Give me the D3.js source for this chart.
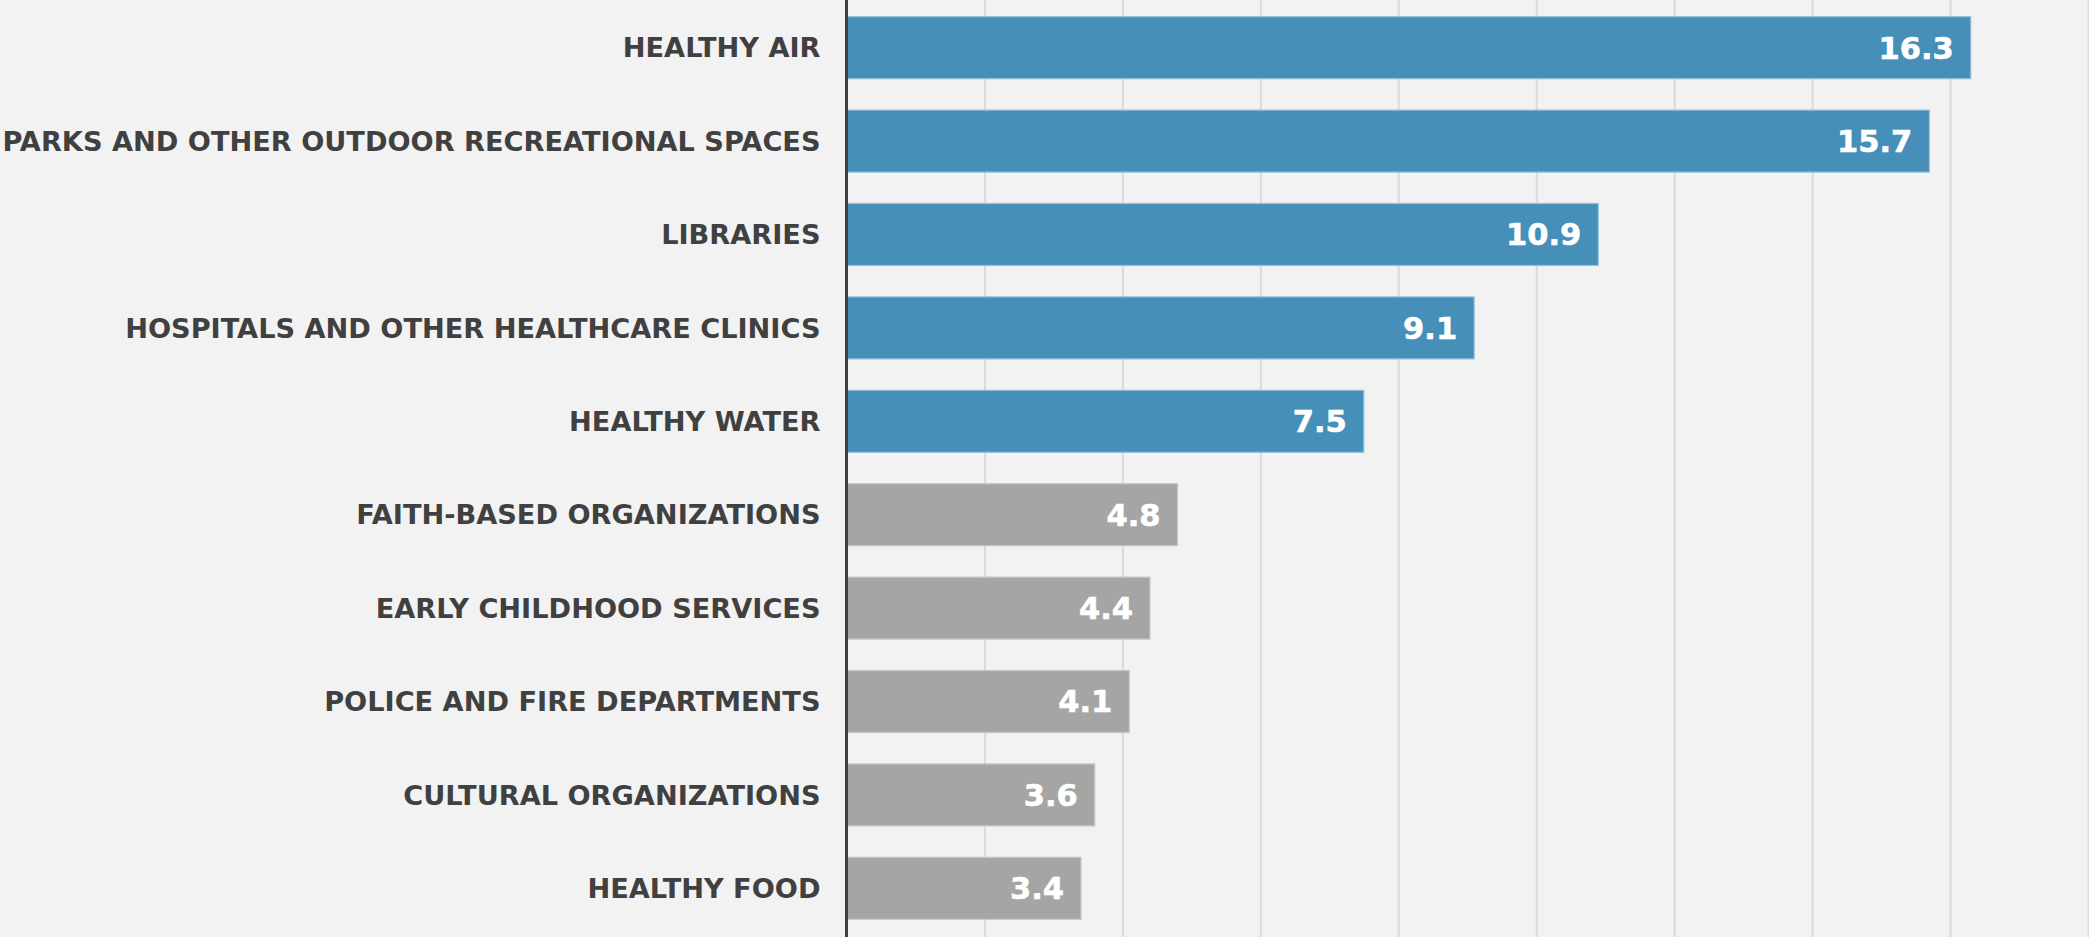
<!DOCTYPE html>
<html>
<head>
<meta charset="utf-8">
<script src="https://cdn.jsdelivr.net/npm/d3@7"></script>
<style>
    html, body { margin: 0; padding: 0; background: #f2f2f2; }
    svg { display: block; }
    .label { font-family: "DejaVu Sans", Verdana, sans-serif; font-weight: bold; font-size: 27.2px; fill: #404040; }
    .value { font-family: "DejaVu Sans", Verdana, sans-serif; font-weight: bold; font-size: 30.5px; fill: #ffffff; }
</style>
</head>
<body>
<svg id="chart"></svg>
<script>
const categories = [
    "HEALTHY AIR",
    "PARKS AND OTHER OUTDOOR RECREATIONAL SPACES",
    "LIBRARIES",
    "HOSPITALS AND OTHER HEALTHCARE CLINICS",
    "HEALTHY WATER",
    "FAITH-BASED ORGANIZATIONS",
    "EARLY CHILDHOOD SERVICES",
    "POLICE AND FIRE DEPARTMENTS",
    "CULTURAL ORGANIZATIONS",
    "HEALTHY FOOD"
];
const values = [16.3, 15.7, 10.9, 9.1, 7.5, 4.8, 4.4, 4.1, 3.6, 3.4];
// top five are highlighted in blue
const highlighted = [true, true, true, true, true, false, false, false, false, false];
const gridTicks = [2, 4, 6, 8, 10, 12, 14, 16, 18];

const W = 2089, H = 937;
const left = 846.5;

const svg = d3.select("#chart").attr("width", W).attr("height", H);

svg.append("rect").attr("width", W).attr("height", H).attr("fill", "#f2f2f2");

const defs = svg.append("defs");
const grad = defs.append("linearGradient")
    .attr("id", "gridGrad")
    .attr("gradientUnits", "userSpaceOnUse")
    .attr("x1", 0).attr("y1", 0).attr("x2", 0).attr("y2", H);
grad.append("stop").attr("offset", "0%").attr("stop-color", "#dadada");
grad.append("stop").attr("offset", "100%").attr("stop-color", "#8e8e8e");

const x = d3.scaleLinear().domain([0, 18]).range([left, 2088]);
const y = d3.scaleBand().domain(categories).range([1, 935])
    .paddingInner(0.336).paddingOuter(0.168);

// gridlines
svg.append("g")
    .attr("transform", `translate(0,${H})`)
    .call(d3.axisBottom(x).tickValues(gridTicks).tickSize(-H).tickFormat(""))
    .call(g => g.select(".domain").remove())
    .call(g => g.selectAll("line")
        .attr("stroke", "url(#gridGrad)")
        .attr("stroke-width", 2));

const data = categories.map((c, i) => ({ c, v: values[i], hi: highlighted[i] }));

svg.append("g").selectAll("rect")
    .data(data)
    .join("rect")
    .attr("x", x(0))
    .attr("y", d => y(d.c))
    .attr("width", d => x(d.v) - x(0))
    .attr("height", y.bandwidth())
    .attr("fill", d => d.hi ? "#458fb8" : "#a5a5a5")
    .attr("stroke", d => d.hi ? "#93c0da" : "#c8c8c8")
    .attr("stroke-width", 1.2);

// value labels inside bar ends
svg.append("g").selectAll("text")
    .data(data)
    .join("text")
    .attr("class", "value")
    .attr("x", d => x(d.v) - 17)
    .attr("y", d => y(d.c) + y.bandwidth() / 2)
    .attr("dy", "0.36em")
    .attr("text-anchor", "end")
    .attr("stroke", "#ffffff")
    .attr("stroke-width", 0.6)
    .text(d => d.v.toFixed(1));

// category labels
svg.append("g")
    .attr("transform", `translate(${left},0)`)
    .call(d3.axisLeft(y).tickSize(0).tickPadding(26))
    .call(g => g.select(".domain").remove())
    .call(g => g.selectAll("text")
        .attr("class", "label")
        .attr("dy", "0.36em")
        .attr("font-size", null)
        .attr("font-family", null)
        .attr("fill", null));

// vertical axis line
svg.append("line")
    .attr("x1", left).attr("x2", left)
    .attr("y1", 0).attr("y2", H)
    .attr("stroke", "#404040")
    .attr("stroke-width", 3);
</script>
</body>
</html>
